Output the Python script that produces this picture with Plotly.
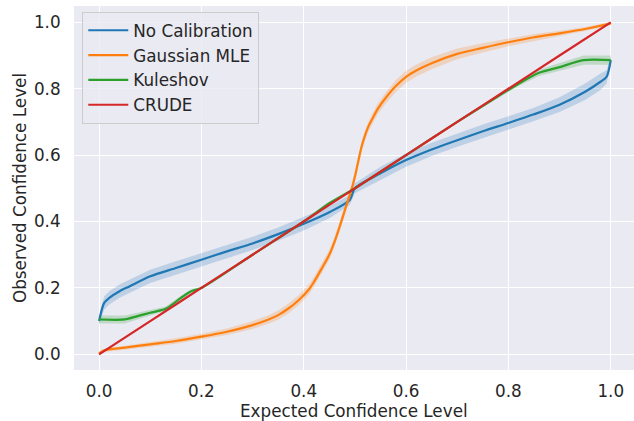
import plotly.graph_objects as go

# ---- data ----
nocal_x = [0, 0.01, 0.02, 0.04, 0.06, 0.1, 0.15, 0.2, 0.25, 0.3, 0.35, 0.4, 0.45, 0.49, 0.5,
           0.55, 0.6, 0.65, 0.7, 0.75, 0.8, 0.85, 0.9, 0.95, 0.98, 0.992, 1.0]
nocal_y = [0.10, 0.155, 0.17, 0.19, 0.205, 0.235, 0.26, 0.285, 0.31, 0.334, 0.362, 0.393, 0.428, 0.465, 0.50,
           0.545, 0.585, 0.617, 0.645, 0.672, 0.697, 0.723, 0.752, 0.791, 0.821, 0.836, 0.886]
nocal_err = [0.01, 0.02, 0.02, 0.02, 0.02, 0.02, 0.02, 0.02, 0.02, 0.02, 0.02, 0.02, 0.018, 0.015, 0.015,
             0.02, 0.02, 0.02, 0.02, 0.02, 0.02, 0.02, 0.022, 0.025, 0.025, 0.02, 0.01]

mle_x = [0, 0.01, 0.05, 0.1, 0.15, 0.2, 0.25, 0.3, 0.33, 0.35, 0.37, 0.39, 0.41, 0.42, 0.435, 0.45, 0.46, 0.47, 0.48, 0.49,
         0.495, 0.5, 0.505, 0.513, 0.52, 0.526, 0.535, 0.545, 0.56, 0.58, 0.6, 0.62, 0.65, 0.7, 0.75, 0.8,
         0.85, 0.9, 0.95, 0.99, 1.0]
mle_y = [0.003, 0.012, 0.02, 0.03, 0.04, 0.053, 0.068, 0.088, 0.104, 0.118, 0.138, 0.163, 0.195, 0.218, 0.258, 0.3, 0.338, 0.383, 0.432, 0.48,
         0.505, 0.535, 0.57, 0.625, 0.66, 0.685, 0.712, 0.74, 0.772, 0.808, 0.836, 0.855, 0.877, 0.905, 0.923, 0.94,
         0.955, 0.967, 0.98, 0.993, 0.997]
mle_err = [0.005, 0.005, 0.006, 0.007, 0.008, 0.009, 0.01, 0.012, 0.013, 0.014, 0.015, 0.015, 0.015, 0.015, 0.015, 0.015, 0.015, 0.015, 0.015, 0.015,
           0.015, 0.015, 0.015, 0.015, 0.015, 0.015, 0.016, 0.016, 0.017, 0.018, 0.018, 0.018, 0.018, 0.016, 0.014, 0.012,
           0.01, 0.008, 0.006, 0.005, 0.004]

kul_x = [0, 0.05, 0.075, 0.1, 0.13, 0.16, 0.18, 0.2, 0.3, 0.4, 0.45, 0.5, 0.6, 0.7, 0.78, 0.82, 0.86, 0.9, 0.947, 1.0]
kul_y = [0.105, 0.105, 0.115, 0.125, 0.137, 0.17, 0.19, 0.2, 0.3, 0.4, 0.455, 0.5, 0.6, 0.7, 0.777, 0.815, 0.848, 0.865, 0.886, 0.886]
kul_err = [0.012, 0.012, 0.01, 0.008, 0.007, 0.006, 0.005, 0.004, 0.004, 0.004, 0.005, 0.005, 0.004, 0.004, 0.005, 0.007, 0.01, 0.012, 0.014, 0.014]

crude_x = [0, 0.1, 0.2, 0.3, 0.4, 0.5, 0.6, 0.7, 0.8, 0.9, 1.0]
crude_y = [0, 0.1, 0.2, 0.3, 0.4, 0.5, 0.6, 0.7, 0.8, 0.9, 1.0]
crude_err = [0.003, 0.003, 0.003, 0.003, 0.003, 0.003, 0.003, 0.003, 0.003, 0.003, 0.003]

series = [
    ("No Calibration", nocal_x, nocal_y, nocal_err, "#1f77b4", "rgba(31,119,180,0.22)"),
    ("Gaussian MLE", mle_x, mle_y, mle_err, "#ff7f0e", "rgba(255,127,14,0.22)"),
    ("Kuleshov", kul_x, kul_y, kul_err, "#2ca02c", "rgba(44,160,44,0.22)"),
    ("CRUDE", crude_x, crude_y, crude_err, "#d62728", "rgba(214,39,40,0.22)"),
]

tick_vals = [0.0, 0.2, 0.4, 0.6, 0.8, 1.0]
tick_text = ["0.0", "0.2", "0.4", "0.6", "0.8", "1.0"]

fig = go.Figure()
for name, xs, ys, es, col, fcol in series:
    upper = [y + e for y, e in zip(ys, es)]
    lower = [y - e for y, e in zip(ys, es)]
    fig.add_trace(go.Scatter(x=xs + xs[::-1], y=upper + lower[::-1], fill="toself",
                             fillcolor=fcol, line=dict(width=0), mode="lines",
                             showlegend=False, hoverinfo="skip"))
    fig.add_trace(go.Scatter(x=xs, y=ys, mode="lines", name=name,
                             line=dict(color=col, width=2.2, shape="spline", smoothing=0.8)))

FS = 16.8
font = dict(family="DejaVu Sans", size=FS, color="#262626")
fig.update_layout(
    width=634, height=421,
    margin=dict(l=74, r=0, t=6, b=51),
    paper_bgcolor="white", plot_bgcolor="#EAEAF2",
    font=font,
    legend=dict(x=0.0148, y=0.984, xanchor="left", yanchor="top",
                bgcolor="rgba(234,234,242,0.8)", bordercolor="#cccccc", borderwidth=1,
                font=font, tracegroupgap=0, itemwidth=40),
    xaxis=dict(range=[-0.049, 1.0455], tickvals=tick_vals, ticktext=tick_text,
               showgrid=True, gridcolor="white", gridwidth=1.3, zeroline=False,
               showline=False, ticks="outside", ticklen=6, tickcolor="rgba(0,0,0,0)"),
    yaxis=dict(range=[-0.0473, 1.0492], tickvals=tick_vals, ticktext=tick_text,
               showgrid=True, gridcolor="white", gridwidth=1.3, zeroline=False,
               showline=False, ticks="outside", ticklen=9, tickcolor="rgba(0,0,0,0)"),
    annotations=[
        dict(text="Expected Confidence Level", xref="paper", yref="paper",
             x=0.5, y=0, yshift=-41, xanchor="center", yanchor="middle",
             showarrow=False, font=font),
        dict(text="Observed Confidence Level", xref="paper", yref="paper",
             x=0, y=0.5, xshift=-54, textangle=-90, xanchor="center", yanchor="middle",
             showarrow=False, font=font),
    ],
)

fig.write_html("out.html")
